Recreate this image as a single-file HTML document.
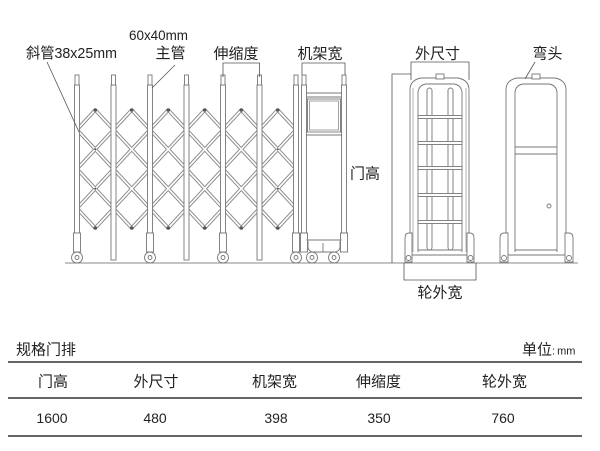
<!DOCTYPE html>
<html><head><meta charset="utf-8">
<style>
html,body{margin:0;padding:0;background:#fff;}
svg{display:block;}
text{font-family:"Liberation Sans","Noto Sans CJK SC",sans-serif;fill:#222;}
</style></head><body>
<svg width="600" height="451" viewBox="0 0 600 451" xmlns="http://www.w3.org/2000/svg">
<defs>
<path id="col" d="M0,110 L18.25,129.67 L0,149.33 L18.25,169 L0,188.67 L18.25,208.33 L0,228 M0,110 L-18.25,129.67 L0,149.33 L-18.25,169 L0,188.67 L-18.25,208.33 L0,228"/>
</defs>

<!-- ground -->
<line x1="65" y1="263" x2="578" y2="263" stroke="#888" stroke-width="1"/>

<!-- lattice -->
<g fill="none" stroke-linejoin="miter">
<g stroke="#888" stroke-width="3.6">
<use href="#col" x="95.25"/><use href="#col" x="131.75"/><use href="#col" x="168.25"/>
<use href="#col" x="204.75"/><use href="#col" x="241.25"/><use href="#col" x="277.75"/>
</g>
<g stroke="#fff" stroke-width="1.7">
<use href="#col" x="95.25"/><use href="#col" x="131.75"/><use href="#col" x="168.25"/>
<use href="#col" x="204.75"/><use href="#col" x="241.25"/><use href="#col" x="277.75"/>
</g>
</g>
<g fill="#555">
<circle cx="95.25" cy="110" r="1.8"/><circle cx="131.75" cy="110" r="1.8"/><circle cx="168.25" cy="110" r="1.8"/><circle cx="204.75" cy="110" r="1.8"/><circle cx="241.25" cy="110" r="1.8"/><circle cx="277.75" cy="110" r="1.8"/>
<circle cx="95.25" cy="228" r="1.8"/><circle cx="131.75" cy="228" r="1.8"/><circle cx="168.25" cy="228" r="1.8"/><circle cx="204.75" cy="228" r="1.8"/><circle cx="241.25" cy="228" r="1.8"/><circle cx="277.75" cy="228" r="1.8"/>
<circle cx="95.25" cy="149.3" r="1.1"/><circle cx="95.25" cy="188.7" r="1.1"/><circle cx="277.75" cy="149.3" r="1.1"/><circle cx="277.75" cy="188.7" r="1.1"/>
</g>

<!-- posts -->
<g fill="#fff" stroke="#777" stroke-width="0.9">
<rect x="74.5" y="85" width="5" height="148"/><rect x="73.5" y="233" width="7" height="19"/>
<rect x="147.5" y="85" width="5" height="148"/><rect x="146.5" y="233" width="7" height="19"/>
<rect x="220.5" y="85" width="5" height="148"/><rect x="219.5" y="233" width="7" height="19"/>
<rect x="293.5" y="85" width="5" height="148"/><rect x="292.5" y="233" width="7" height="19"/>
<rect x="111" y="85" width="5" height="175"/>
<rect x="184" y="85" width="5" height="175"/>
<rect x="257" y="85" width="5" height="175"/>
<rect x="75" y="75" width="4" height="10"/><rect x="111.5" y="75" width="4" height="10"/>
<rect x="148" y="75" width="4" height="10"/><rect x="184.5" y="75" width="4" height="10"/>
<rect x="221" y="75" width="4" height="10"/><rect x="257.5" y="75" width="4" height="10"/>
<rect x="294" y="75" width="4" height="10"/>
<circle cx="77" cy="257.5" r="5.5"/><circle cx="150" cy="257.5" r="5.5"/>
<circle cx="223" cy="257.5" r="5.5"/><circle cx="296" cy="257.5" r="5.5"/>
<circle cx="77" cy="257.5" r="2"/><circle cx="150" cy="257.5" r="2"/>
<circle cx="223" cy="257.5" r="2"/><circle cx="296" cy="257.5" r="2"/>
</g>

<!-- frame (机架) -->
<g fill="#fff" stroke="#777" stroke-width="0.9">
<rect x="301.5" y="85" width="5" height="148"/>
<rect x="341.5" y="85" width="5" height="148"/>
<rect x="302" y="75" width="4" height="10"/>
<rect x="342" y="75" width="4" height="10"/>
<rect x="300.5" y="233" width="7" height="19"/>
<rect x="340.5" y="233" width="7" height="19"/>
<line x1="306.5" y1="93" x2="341.5" y2="93"/>
<line x1="306.5" y1="97" x2="341.5" y2="97"/>
<rect x="307.5" y="99" width="33" height="33"/>
<rect x="309.5" y="101" width="29" height="29" stroke="#999"/>
<line x1="306.5" y1="135" x2="341.5" y2="135"/>
<line x1="306.5" y1="240" x2="341.5" y2="240"/>
<path d="M308,241 L308,246 Q308,252 314,252 L334,252 Q340,252 340,246 L340,241" fill="none"/>
<line x1="323" y1="243" x2="323" y2="252"/>
<circle cx="312" cy="257.5" r="5.5"/><circle cx="334" cy="257.5" r="5.5"/>
<circle cx="312" cy="257.5" r="2"/><circle cx="334" cy="257.5" r="2"/>
</g>

<!-- front view (外尺寸) -->
<g fill="none" stroke="#777" stroke-width="0.9">
<path d="M410,255 L410,90 Q410,80 421,78 L458,78 Q469,80 469,90 L469,255"/>
<path d="M418,252 L418,92 Q419,85 426,84 L454,84 Q461,85 462,92 L462,252"/>
<line x1="413" y1="88" x2="413" y2="252" stroke="#aaa"/>
<line x1="466" y1="88" x2="466" y2="252" stroke="#aaa"/>
<rect x="436" y="74" width="8" height="5" fill="#fff"/>
<rect x="427" y="88" width="5" height="162" rx="2.5" fill="#fff"/>
<rect x="448" y="88" width="5" height="162" rx="2.5" fill="#fff"/>
<rect x="418" y="115.5" width="44" height="3" fill="#fff"/>
<rect x="418" y="141.5" width="44" height="3" fill="#fff"/>
<rect x="418" y="166.5" width="44" height="3" fill="#fff"/>
<rect x="418" y="193.5" width="44" height="3" fill="#fff"/>
<rect x="418" y="220.5" width="44" height="3" fill="#fff"/>
<line x1="418" y1="250" x2="462" y2="250"/>
<line x1="410" y1="255" x2="469" y2="255"/>
<path d="M405,262 L405,238 Q405,233 409,233 L412,233 L412,262 Z" fill="#fff"/>
<path d="M474,262 L474,238 Q474,233 470,233 L467,233 L467,262 Z" fill="#fff"/>
<circle cx="408.5" cy="258" r="2.5"/><circle cx="470.5" cy="258" r="2.5"/>
</g>

<!-- side view (弯头) -->
<g fill="none" stroke="#777" stroke-width="0.9">
<path d="M506,255 L506,90 Q506,80 517,78 L555,78 Q566,80 566,90 L566,255"/>
<path d="M515,252 L515,92 Q516,85 523,84 L549,84 Q556,85 557,92 L557,252"/>
<rect x="532" y="74" width="8" height="5" fill="#fff"/>
<line x1="515" y1="147" x2="557" y2="147"/>
<line x1="515" y1="154" x2="557" y2="154"/>
<circle cx="549" cy="206" r="2"/>
<line x1="515" y1="250" x2="557" y2="250"/>
<line x1="506" y1="255" x2="566" y2="255"/>
<path d="M500,262 L500,238 Q500,233 504,233 L508,233 L508,262 Z" fill="#fff"/>
<path d="M573,262 L573,238 Q573,233 569,233 L565,233 L565,262 Z" fill="#fff"/>
<circle cx="504" cy="258" r="2.5"/><circle cx="569" cy="258" r="2.5"/>
</g>

<!-- dimension & leader lines -->
<g fill="none" stroke="#555" stroke-width="0.8">
<line x1="47" y1="62" x2="79" y2="132"/>
<line x1="175" y1="65" x2="152" y2="88"/>
<path d="M223,77 V63 H259.5 V77"/>
<path d="M302,75 V63 H345 V75"/>
<path d="M411,80 V62 H469 V80"/>
<line x1="535" y1="62" x2="525" y2="79"/>
<path d="M392,263 V74 H411"/>
<path d="M404,263 V280 H476 V263"/>
</g>

<!-- labels -->
<g font-size="15">
<text x="158.5" y="40" text-anchor="middle" font-size="14" textLength="59" lengthAdjust="spacingAndGlyphs">60x40mm</text>
<text x="26" y="58" textLength="91" lengthAdjust="spacingAndGlyphs">斜管38x25mm</text>
<text x="170.5" y="58" text-anchor="middle">主管</text>
<text x="236" y="58.5" text-anchor="middle">伸缩度</text>
<text x="320" y="58.5" text-anchor="middle">机架宽</text>
<text x="437.5" y="58.5" text-anchor="middle">外尺寸</text>
<text x="547.5" y="58.5" text-anchor="middle">弯头</text>
<text x="365" y="178.5" text-anchor="middle">门高</text>
<text x="440" y="297.5" text-anchor="middle">轮外宽</text>
</g>

<!-- table -->
<g stroke="#333" stroke-width="1.6">
<line x1="8" y1="362" x2="582" y2="362"/>
<line x1="8" y1="398" x2="582" y2="398"/>
<line x1="8" y1="436" x2="582" y2="436"/>
</g>
<g font-size="15" fill="#222">
<text x="16" y="354.5">规格门排</text>
<text x="522" y="354.5">单位<tspan font-size="11">:</tspan><tspan font-size="11" dx="2">mm</tspan></text>
<text x="53" y="386.5" text-anchor="middle">门高</text>
<text x="156" y="386.5" text-anchor="middle">外尺寸</text>
<text x="274.5" y="386.5" text-anchor="middle">机架宽</text>
<text x="378.5" y="386.5" text-anchor="middle">伸缩度</text>
<text x="504.5" y="386.5" text-anchor="middle">轮外宽</text>
</g>
<g font-size="14" fill="#333">
<text x="52" y="423" text-anchor="middle">1600</text>
<text x="155" y="423" text-anchor="middle">480</text>
<text x="276" y="423" text-anchor="middle">398</text>
<text x="379" y="423" text-anchor="middle">350</text>
<text x="503" y="423" text-anchor="middle">760</text>
</g>
</svg>
</body></html>
